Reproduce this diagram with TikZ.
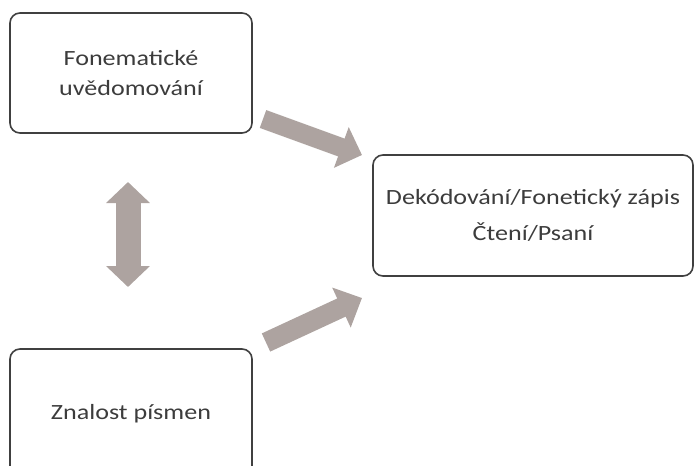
\documentclass[tikz,border=0pt]{standalone}
\usepackage{fontspec}
\setmainfont{Carlito}[FakeStretch=1.2]
\usepackage{xcolor}
\usepackage{tikz}
\usetikzlibrary{arrows.meta,positioning}
\definecolor{boxline}{RGB}{64,64,64}
\definecolor{boxtext}{RGB}{60,60,60}
\definecolor{arrowgray}{RGB}{173,163,160}

\begin{document}
\begin{tikzpicture}[
    x=0.75pt,y=-0.75pt,
    box/.style={rectangle,draw=boxline,line width=1.2pt,rounded corners=7.5pt,
                text=boxtext,align=center,font=\fontsize{16.3pt}{22.5pt}\selectfont},
    blockarrow/.style={draw=arrowgray,line cap=butt},
]
\useasboundingbox (0,0) rectangle (696,465);
\node[box,minimum width=181.5pt,minimum height=90pt] (fon) at (131,73) {Fonematické\\uvědomování};
\node[box,minimum width=240pt,minimum height=90.75pt] (dek) at (533,215.5) {Dekódování/Fonetický zápis\\[4pt]Čtení/Psaní};
\node[box,minimum width=181.5pt,minimum height=99pt] (zna) at (131,415) {\raisebox{4.5pt}{Znalost písmen}};

\coordinate (a1) at (263,119);
\coordinate (b1) at (362,155);
\coordinate (a2) at (266,342.5);
\coordinate (b2) at (362,298);
\coordinate (v1) at (128,182);
\coordinate (v2) at (128,287);

\draw[blockarrow,line width=14.25pt,-{Triangle[length=16.5pt,width=31.5pt]}] (a1) -- (b1);
\draw[blockarrow,line width=15pt,-{Triangle[length=17pt,width=32pt]}] (a2) -- (b2);
\draw[blockarrow,line width=18.75pt,{Triangle[length=15.75pt,width=32pt]}-{Triangle[length=15.75pt,width=32pt]}] (v1) -- (v2);
\end{tikzpicture}
\end{document}
